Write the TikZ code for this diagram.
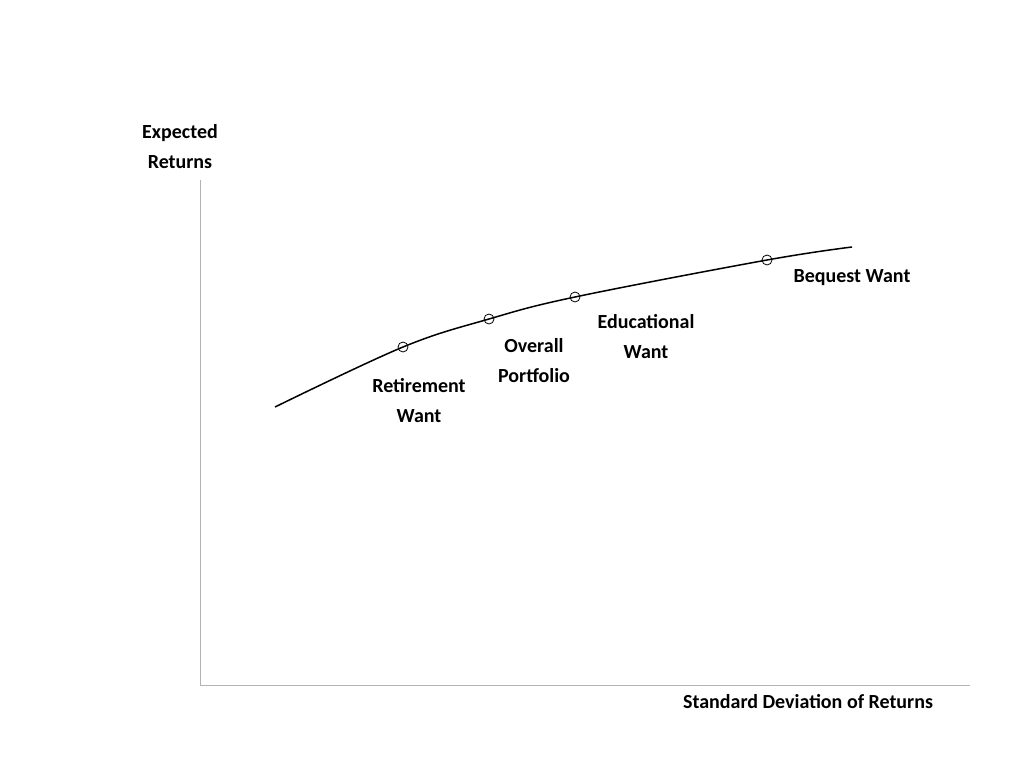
\documentclass[tikz,border=0pt]{standalone}
\usepackage{fontspec}
\setmainfont{Carlito}
\begin{document}
\begin{tikzpicture}
[x=1pt,y=-1pt,
  pointdecorate/.style={shape=circle,inner sep=0pt,minimum size=10pt,draw,thick},%
  labeldecorate/.style={align=center,font=\bfseries\fontsize{20}{30}\selectfont},%
  axisdecorate/.style={draw=gray!60,line width=0.8pt}]
\useasboundingbox (0,0) rectangle (1024,768);
%% axes
\coordinate (origin) at (200,685);
\coordinate (ytop) at (200,180);
\coordinate (xend) at (970,685);
\draw [axisdecorate] (ytop) -- (origin) -- (xend);
\node (ylabel) at (180,147) [labeldecorate] {Expected\\Returns};
\node (xlabel) at (808,702) [labeldecorate] {Standard Deviation of Returns};
%% frontier
\draw [line width=1.5pt] plot [smooth,tension=0.6] coordinates
  {(275,407) (403,347) (489,319) (575,297) (767,260) (852,247)};
%% wants
\foreach \nodename/\x/\y/\lx/\ly/\text in {
  retire/403/347/419/401/Retirement\\Want,
  overall/489/319/534/361/Overall\\Portfolio,
  educ/575/297/646/337/Educational\\Want,
  bequest/767/260/852/278/Bequest Want}
{
  \node (\nodename) at (\x,\y) [pointdecorate] {};
  \node (\nodename-label) at (\lx,\ly) [labeldecorate] {\text};
}
\end{tikzpicture}
\end{document}
